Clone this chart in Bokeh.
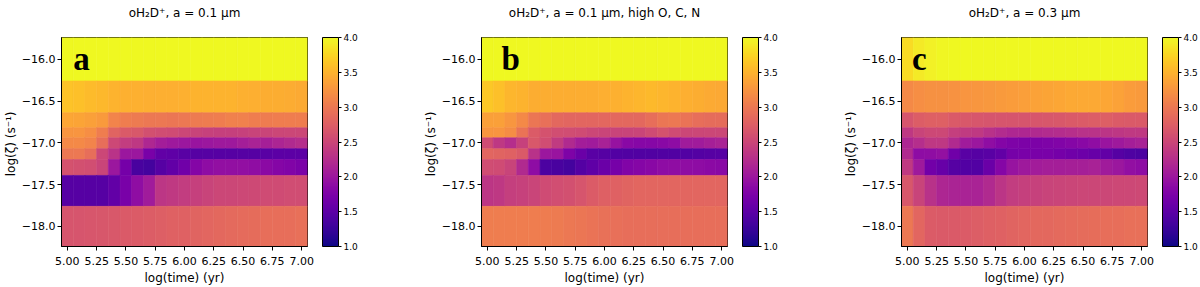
import numpy as np
from bokeh.plotting import figure
from bokeh.models import (LinearColorMapper, ColorBar, FixedTicker, CustomJSTickFormatter,
                          Range1d, Label, ColumnDataSource, Title)
from bokeh.layouts import row
from bokeh.palettes import Plasma256
from bokeh.transform import linear_cmap
from bokeh.embed import file_html
from bokeh.resources import INLINE

# ---------------- data ----------------
log_time = [5.0, 5.1, 5.2, 5.3, 5.4, 5.5, 5.6, 5.7, 5.8, 5.9, 6.0,
            6.1, 6.2, 6.3, 6.4, 6.5, 6.6, 6.7, 6.8, 6.9, 7.0]
log_zeta = [-16.0, -16.52, -16.76, -16.88, -17.0, -17.14, -17.26, -17.52, -18.0]

x_ticks = [5.0, 5.25, 5.5, 5.75, 6.0, 6.25, 6.5, 6.75, 7.0]
y_ticks = [-18.0, -17.5, -17.0, -16.5, -16.0]
cbar_ticks = [1.0, 1.5, 2.0, 2.5, 3.0, 3.5, 4.0]

titles = ["oH\u2082D\u207a, a = 0.1 \u03bcm",
          "oH\u2082D\u207a, a = 0.1 \u03bcm, high O, C, N",
          "oH\u2082D\u207a, a = 0.3 \u03bcm"]
letters = ["a", "b", "c"]

# rows top (log zeta = -16.0) to bottom (-18.0), columns log(time) 5.0 .. 7.0
panel_a = [
    [4.0] * 21,
    [3.62, 3.6, 3.56, 3.54, 3.5, 3.48, 3.48, 3.47, 3.47, 3.47, 3.48, 3.5, 3.5, 3.5, 3.5, 3.48, 3.47, 3.46, 3.45, 3.44, 3.43],
    [3.4, 3.38, 3.35, 3.3, 3.1, 3.05, 3.02, 3.0, 3.0, 2.98, 3.0, 3.02, 3.03, 3.05, 3.08, 3.08, 3.05, 3.03, 3.05, 3.05, 3.05],
    [3.25, 3.25, 3.2, 3.05, 2.8, 2.7, 2.68, 2.6, 2.57, 2.55, 2.5, 2.47, 2.45, 2.43, 2.43, 2.45, 2.47, 2.48, 2.5, 2.5, 2.5],
    [3.15, 3.15, 3.1, 2.9, 2.52, 2.4, 2.35, 2.18, 2.07, 2.02, 2.0, 1.98, 2.0, 2.03, 2.03, 2.08, 2.13, 2.1, 2.15, 2.2, 2.25],
    [3.0, 3.0, 2.9, 2.5, 2.3, 2.0, 2.0, 1.72, 1.55, 1.52, 1.48, 1.45, 1.45, 1.45, 1.45, 1.45, 1.45, 1.47, 1.5, 1.5, 1.5],
    [2.62, 2.6, 2.58, 2.48, 2.0, 1.68, 1.36, 1.32, 1.45, 1.55, 1.65, 1.8, 1.88, 1.92, 1.92, 1.92, 1.9, 1.86, 1.82, 1.78, 1.73],
    [1.45, 1.45, 1.45, 1.45, 1.55, 1.72, 1.9, 2.05, 2.33, 2.36, 2.4, 2.44, 2.47, 2.5, 2.5, 2.52, 2.53, 2.55, 2.55, 2.56, 2.57],
    [2.65, 2.65, 2.66, 2.67, 2.68, 2.7, 2.72, 2.73, 2.75, 2.77, 2.78, 2.8, 2.82, 2.84, 2.86, 2.87, 2.88, 2.9, 2.9, 2.91, 2.92],
]

panel_b = [
    [4.0] * 21,
    [3.65, 3.6, 3.52, 3.5, 3.46, 3.45, 3.45, 3.45, 3.45, 3.46, 3.47, 3.48, 3.5, 3.52, 3.55, 3.52, 3.5, 3.47, 3.45, 3.43, 3.42],
    [3.35, 3.35, 3.27, 3.15, 2.98, 2.92, 2.85, 2.82, 2.82, 2.82, 2.83, 2.85, 2.85, 2.85, 2.9, 2.98, 3.0, 2.95, 2.9, 2.88, 2.88],
    [3.27, 3.25, 3.18, 2.95, 2.72, 2.62, 2.58, 2.56, 2.55, 2.5, 2.48, 2.47, 2.47, 2.48, 2.55, 2.62, 2.55, 2.5, 2.5, 2.5, 2.5],
    [2.55, 2.35, 2.25, 2.45, 2.68, 2.56, 2.38, 2.2, 2.07, 2.05, 2.12, 1.95, 1.85, 1.83, 1.83, 1.85, 1.88, 2.05, 2.05, 2.1, 2.13],
    [2.82, 2.8, 2.78, 2.7, 2.28, 2.0, 1.98, 1.75, 1.6, 1.47, 1.45, 1.43, 1.42, 1.42, 1.42, 1.42, 1.42, 1.43, 1.44, 1.45, 1.46],
    [2.56, 2.55, 2.47, 2.2, 1.88, 1.38, 1.36, 1.32, 1.44, 1.52, 1.6, 1.7, 1.78, 1.82, 1.85, 1.88, 1.9, 1.9, 1.88, 1.86, 1.85],
    [2.33, 2.35, 2.42, 2.45, 2.48, 2.55, 2.58, 2.6, 2.65, 2.72, 2.76, 2.78, 2.8, 2.82, 2.82, 2.82, 2.82, 2.82, 2.82, 2.82, 2.82],
    [3.05, 3.05, 3.05, 3.05, 3.04, 3.03, 3.02, 3.0, 2.97, 2.95, 2.93, 2.92, 2.9, 2.9, 2.9, 2.9, 2.9, 2.9, 2.9, 2.9, 2.9],
]

panel_c = [
    [3.8, 3.9, 3.95, 3.98, 4.0, 4.0, 4.0, 4.0, 4.0, 4.0, 4.0, 4.0, 4.0, 4.0, 4.0, 4.0, 4.0, 4.0, 4.0, 4.0, 4.0],
    [3.15, 3.2, 3.22, 3.22, 3.23, 3.25, 3.27, 3.28, 3.3, 3.32, 3.34, 3.36, 3.38, 3.4, 3.42, 3.42, 3.42, 3.4, 3.36, 3.32, 3.3],
    [2.65, 2.73, 2.76, 2.76, 2.7, 2.68, 2.66, 2.65, 2.65, 2.65, 2.65, 2.66, 2.67, 2.68, 2.7, 2.72, 2.74, 2.75, 2.72, 2.7, 2.7],
    [2.35, 2.47, 2.52, 2.52, 2.42, 2.38, 2.36, 2.28, 2.22, 2.18, 2.18, 2.2, 2.22, 2.24, 2.26, 2.28, 2.3, 2.32, 2.34, 2.36, 2.37],
    [2.17, 2.25, 2.35, 2.35, 2.2, 2.05, 2.0, 1.9, 1.8, 1.76, 1.74, 1.74, 1.75, 1.78, 1.82, 1.85, 1.9, 1.98, 2.02, 2.08, 2.12],
    [2.2, 1.88, 1.9, 1.93, 1.65, 1.47, 1.45, 1.47, 1.55, 1.7, 1.72, 1.72, 1.72, 1.68, 1.65, 1.62, 1.58, 1.55, 1.45, 1.4, 1.38],
    [2.37, 2.02, 1.66, 1.58, 1.45, 1.43, 1.43, 1.6, 1.82, 1.97, 2.03, 2.06, 2.08, 2.08, 2.1, 2.1, 2.12, 2.05, 2.0, 1.92, 1.88],
    [2.67, 2.47, 2.28, 2.17, 2.14, 2.13, 2.13, 2.2, 2.32, 2.4, 2.43, 2.45, 2.47, 2.48, 2.49, 2.5, 2.5, 2.51, 2.52, 2.52, 2.53],
    [3.0, 2.82, 2.72, 2.7, 2.7, 2.72, 2.74, 2.76, 2.78, 2.8, 2.82, 2.84, 2.85, 2.86, 2.87, 2.88, 2.89, 2.9, 2.91, 2.92, 2.92],
]

# ---------------- helpers ----------------
def cell_edges(c):
    c = np.asarray(c, float)
    mid = (c[:-1] + c[1:]) / 2.0
    first = c[0] - (mid[0] - c[0])
    last = c[-1] + (c[-1] - mid[-1])
    return np.concatenate([[first], mid, [last]])

x_edges = cell_edges(log_time)
y_edges = cell_edges(log_zeta)

FONT = "DejaVu Sans"
mapper = LinearColorMapper(palette=Plasma256, low=1.0, high=4.0)


def make_panel(title, grid, letter, letter_dx, border_right):
    l, r, t, b, v = [], [], [], [], []
    for i in range(len(log_zeta)):
        for j in range(len(log_time)):
            l.append(x_edges[j]); r.append(x_edges[j + 1])
            t.append(y_edges[i]); b.append(y_edges[i + 1])
            v.append(grid[i][j])
    src = ColumnDataSource(dict(l=l, r=r, t=t, b=b, v=v))

    p = figure(frame_width=246, height=287, output_backend="svg", toolbar_location=None,
               x_range=Range1d(x_edges[0], x_edges[-1]),
               y_range=Range1d(y_edges[-1], y_edges[0]),
               min_border_left=57, min_border_right=border_right,
               min_border_top=37, min_border_bottom=0)
    cmap = linear_cmap("v", Plasma256, 1.0, 4.0)
    p.quad(left="l", right="r", top="t", bottom="b", source=src,
           fill_color=cmap, line_color=cmap, line_width=0.6)

    # spacer (nearest the frame) and the real title above it
    p.add_layout(Title(text=" ", text_font=FONT, text_font_size="12px", standoff=0), "above")
    p.add_layout(Title(text=title, align="center", text_font=FONT, text_font_size="12px",
                       text_font_style="normal", text_color="black", standoff=4), "above")

    p.xaxis.ticker = FixedTicker(ticks=x_ticks)
    p.xaxis.formatter = CustomJSTickFormatter(code="return tick.toFixed(2)")
    p.yaxis.ticker = FixedTicker(ticks=y_ticks)
    p.yaxis.formatter = CustomJSTickFormatter(code="return tick.toFixed(1).replace('-', '\\u2212')")
    p.xaxis.axis_label = "log(time) (yr)"
    p.yaxis.axis_label = "log(\u03b6)  (s\u207b\u00b9)"
    for ax in (p.xaxis, p.yaxis):
        ax.major_tick_out = 4
        ax.major_tick_in = 0
        ax.minor_tick_out = 0
        ax.minor_tick_in = 0
        ax.axis_line_color = "black"
        ax.major_tick_line_color = "black"
        ax.major_label_text_font = FONT
        ax.major_label_text_font_size = "11px"
        ax.major_label_text_color = "black"
        ax.axis_label_text_font = FONT
        ax.axis_label_text_font_size = "12px"
        ax.axis_label_text_font_style = "normal"
        ax.axis_label_text_color = "black"
    p.xaxis.major_label_standoff = 6
    p.xaxis.axis_label_standoff = 3
    p.yaxis.major_label_standoff = 2
    p.yaxis.axis_label_standoff = 1
    p.grid.visible = False
    p.outline_line_color = "black"
    p.outline_line_alpha = 1.0

    cb = ColorBar(color_mapper=mapper, ticker=FixedTicker(ticks=cbar_ticks),
                  formatter=CustomJSTickFormatter(code="return tick.toFixed(1)"),
                  width=16, location=(15, 0), margin=0, padding=0,
                  bar_line_color="black", bar_line_width=1,
                  major_tick_out=3, major_tick_in=0, major_tick_line_color="black",
                  minor_tick_line_color=None,
                  major_label_text_font=FONT, major_label_text_font_size="9px",
                  major_label_text_color="black", label_standoff=2,
                  background_fill_color=None, border_line_color=None)
    p.add_layout(cb, "right")

    p.add_layout(Label(x=x_edges[0] + letter_dx, y=y_edges[0] - 0.26, text=letter,
                       text_font="Liberation Serif", text_font_style="bold",
                       text_font_size="33px", text_color="black",
                       text_baseline="alphabetic"))
    return p


pa = make_panel(titles[0], panel_a, letters[0], 0.10, 113)
pb = make_panel(titles[1], panel_b, letters[1], 0.17, 113)
pc = make_panel(titles[2], panel_c, letters[2], 0.09, 50)

layout = row(pa, pb, pc)
open("out.html", "w").write(file_html(layout, INLINE))
